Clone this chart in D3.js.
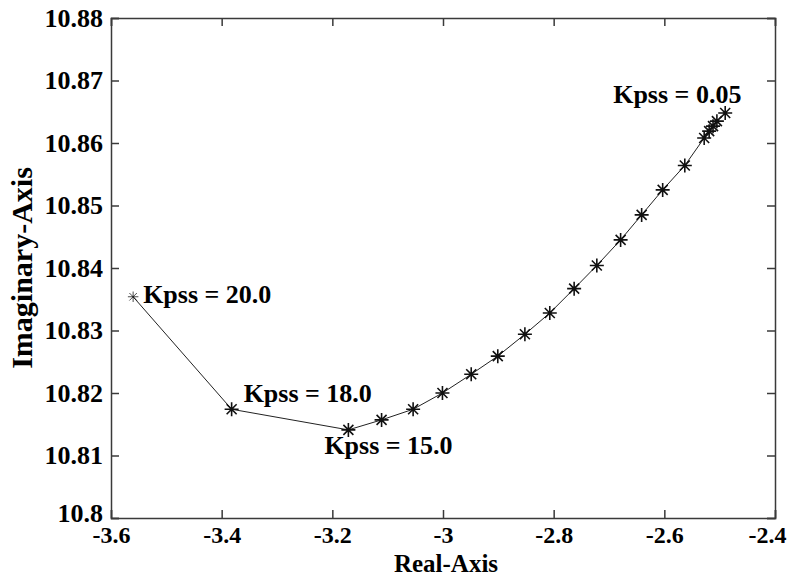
<!DOCTYPE html>
<html>
<head>
<meta charset="utf-8">
<script src="https://cdn.jsdelivr.net/npm/d3@7"></script>
<style>
  body { margin: 0; background: #fff; }
  svg text { font-family: 'Liberation Serif', serif; font-weight: bold; }
</style>
</head>
<body>
<svg id="chart" width="794" height="578" font-family="Liberation Serif"></svg>
<script>
// Root locus points, from Kpss = 20.0 down to Kpss = 0.05
const realPart = [-3.560, -3.382, -3.171, -3.111, -3.054, -3.001, -2.949, -2.901, -2.852, -2.807,
  -2.763, -2.722, -2.679, -2.641, -2.603, -2.563, -2.528, -2.519, -2.512, -2.505, -2.490];
const imagPart = [10.8354, 10.8174, 10.8141, 10.8157, 10.8174, 10.8200, 10.8230, 10.8259, 10.8294, 10.8328,
  10.8367, 10.8404, 10.8445, 10.8485, 10.8525, 10.8564, 10.8608, 10.8619, 10.8627, 10.8635, 10.8648];

// Annotations: text and the index of the point they describe
const kpssLabels = ["Kpss = 20.0", "Kpss = 18.0", "Kpss = 15.0", "Kpss = 0.05"];
const kpssIndex = [0, 1, 2, 20];

const xTicks = [-3.6, -3.4, -3.2, -3.0, -2.8, -2.6, -2.4];
const xTickLabels = ["-3.6", "-3.4", "-3.2", "-3", "-2.8", "-2.6", "-2.4"];
const yTicks = [10.80, 10.81, 10.82, 10.83, 10.84, 10.85, 10.86, 10.87, 10.88];
const yTickLabels = ["10.8", "10.81", "10.82", "10.83", "10.84", "10.85", "10.86", "10.87", "10.88"];

// Set dimensions and margins for the chart
const margin = { top: 18, right: 19, bottom: 60, left: 111 };
const width = 794 - margin.left - margin.right;
const height = 578 - margin.top - margin.bottom;

const x = d3.scaleLinear().domain([-3.6, -2.4]).range([0, width]);
const y = d3.scaleLinear().domain([10.80, 10.88]).range([height, 0]);

const svg = d3.select("#chart")
  .append("g")
  .attr("transform", `translate(${margin.left},${margin.top})`);

const axisColor = "#3a3a3a";
const fontSize = 26;
const xTickSize = 24;
const titleSize = 30;

// Box axes with inward ticks (bottom/top and left/right)
const bottomAxis = svg.append("g")
  .attr("transform", `translate(0,${height})`)
  .call(d3.axisBottom(x).tickValues(xTicks).tickSize(-8).tickPadding(8)
    .tickFormat((d, i) => xTickLabels[i]));
svg.append("g")
  .call(d3.axisTop(x).tickValues(xTicks).tickSize(-8).tickFormat(""));
const leftAxis = svg.append("g")
  .call(d3.axisLeft(y).tickValues(yTicks).tickSize(-8).tickPadding(8)
    .tickFormat((d, i) => yTickLabels[i]));
svg.append("g")
  .attr("transform", `translate(${width},0)`)
  .call(d3.axisRight(y).tickValues(yTicks).tickSize(-8).tickFormat(""));

// d3 puts font attributes on the axis groups; drop them so the page font wins
svg.selectAll("g").attr("font-family", null).attr("font-size", null);
svg.selectAll(".domain").attr("stroke", axisColor).attr("stroke-width", 1.5);
svg.selectAll(".tick line").attr("stroke", axisColor).attr("stroke-width", 1.5);
svg.selectAll(".tick text")
  .attr("font-size", fontSize)
  .attr("fill", "#000");
bottomAxis.selectAll(".tick text")
  .attr("font-size", xTickSize)
  .attr("dx", (d, i) => i === xTicks.length - 1 ? -8 : 0);
// lift the lowest y label a little so it clears "-3.6"
leftAxis.selectAll(".tick text")
  .attr("dy", (d, i) => i === 0 ? "0.12em" : "0.32em");

// Axis labels
svg.append("text")
  .attr("x", width / 2 + 3)
  .attr("y", height + 54)
  .attr("text-anchor", "middle")
  .attr("font-size", 25)
  .text("Real-Axis");

svg.append("text")
  .attr("transform", `translate(${-79},${height / 2}) rotate(-90)`)
  .attr("text-anchor", "middle")
  .attr("font-size", titleSize)
  .text("Imaginary-Axis");

// Locus line
const points = realPart.map((r, i) => ({ re: r, im: imagPart[i] }));
const line = d3.line()
  .x(d => x(d.re))
  .y(d => y(d.im));

svg.append("path")
  .datum(points)
  .attr("fill", "none")
  .attr("stroke", "#222")
  .attr("stroke-width", 1)
  .attr("d", line);

// Star markers
const s = 7, t = 5;
const star = `M${-s},0H${s}M0,${-s}V${s}M${-t},${-t}L${t},${t}M${-t},${t}L${t},${-t}`;
svg.selectAll(".star")
  .data(points)
  .enter().append("path")
  .attr("class", "star")
  .attr("transform", (d, i) => `translate(${x(d.re)},${y(d.im)})` + (i === 0 ? " scale(0.75)" : ""))
  .attr("d", star)
  .attr("fill", "none")
  .attr("stroke", "#111")
  .attr("stroke-width", (d, i) => i === 0 ? 1 : 1.6);

// Kpss annotations, placed beside their points
const labelOffsets = [[10, 6], [12, -7], [-24, 24], [-112, -10]];
svg.selectAll(".kpss")
  .data(kpssLabels)
  .enter().append("text")
  .attr("class", "kpss")
  .attr("x", (d, i) => x(realPart[kpssIndex[i]]) + labelOffsets[i][0])
  .attr("y", (d, i) => y(imagPart[kpssIndex[i]]) + labelOffsets[i][1])
  .attr("font-size", fontSize)
  .text(d => d);
</script>
</body>
</html>
